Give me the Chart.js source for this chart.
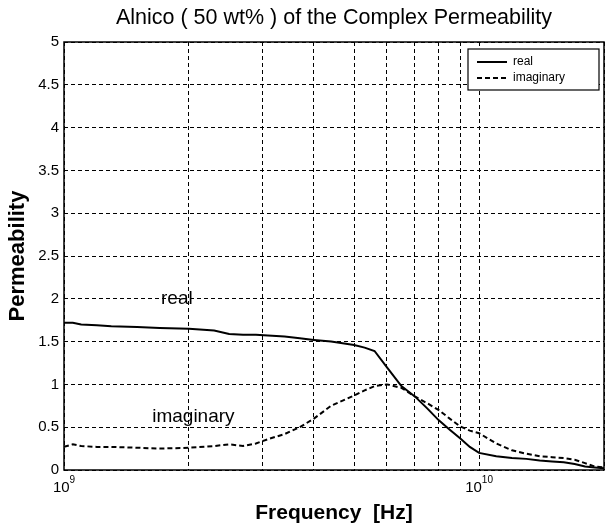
<!DOCTYPE html>
<html>
<head>
<meta charset="utf-8">
<script src="https://cdn.jsdelivr.net/npm/chart.js@4.4.0/dist/chart.umd.min.js"></script>
<style>
html,body{margin:0;padding:0;background:#fff}
#wrap{width:606px;height:528px}
</style>
</head>
<body>
<div id="wrap"><canvas id="c" width="606" height="528"></canvas></div>
<script>
// data (frequency in GHz)
const freqGHz  = [1.0, 1.05, 1.1, 1.2, 1.3, 1.5, 1.7, 2.0, 2.3, 2.5, 2.7, 2.9, 3.1, 3.4, 3.7, 4.0, 4.4, 5.0, 5.3, 5.6, 6.0, 6.5, 7.0, 7.5, 8.0, 8.5, 9.0, 9.5, 10, 11, 12, 13, 14, 15, 16, 17, 18, 19, 20]
const realVals = [1.72, 1.72, 1.70, 1.69, 1.68, 1.67, 1.66, 1.65, 1.63, 1.59, 1.58, 1.58, 1.57, 1.56, 1.54, 1.52, 1.50, 1.46, 1.43, 1.39, 1.20, 0.98, 0.86, 0.72, 0.58, 0.47, 0.37, 0.27, 0.20, 0.16, 0.14, 0.13, 0.11, 0.10, 0.09, 0.07, 0.04, 0.03, 0.02]
const imagVals = [0.27, 0.30, 0.28, 0.27, 0.27, 0.26, 0.25, 0.26, 0.28, 0.30, 0.28, 0.31, 0.36, 0.42, 0.50, 0.60, 0.75, 0.87, 0.93, 0.98, 1.00, 0.96, 0.86, 0.78, 0.70, 0.60, 0.51, 0.46, 0.43, 0.31, 0.23, 0.19, 0.16, 0.15, 0.14, 0.12, 0.08, 0.04, 0.03]

const seriesNames = ['real', 'imaginary']
const xGridHz = [1e9, 2e9, 3e9, 4e9, 5e9, 6e9, 7e9, 8e9, 9e9, 1e10, 2e10]
const xLabelExps = [9, 10]
const chartTitle = 'Alnico ( 50 wt% ) of the Complex Permeability'
const xTitle = 'Frequency  [Hz]'
const yTitle = 'Permeability'
// where the curve names are written inside the plot (data coords)
const realNote = {x: 1.87e9, y: 2.0}
const imagNote = {x: 2.05e9, y: 0.62}

const FONT = '"Liberation Sans", Arial, sans-serif'

function pts(vals){
    return freqGHz.map((f,i)=>({x: f*1e9, y: vals[i]}))
}

// 제목, 축 라벨, 범례, 테두리
const extras = {
    id: 'extras',
    afterDraw(chart){
        const ctx = chart.ctx
        const a = chart.chartArea
        const xs = chart.scales.x
        const ys = chart.scales.y
        ctx.save()

        // box
        ctx.strokeStyle = '#000'
        ctx.lineWidth = 1.5
        ctx.strokeRect(a.left, a.top, a.right - a.left, a.bottom - a.top)

        ctx.fillStyle = '#000'
        // title
        ctx.font = '21.5px ' + FONT
        ctx.textAlign = 'center'
        ctx.textBaseline = 'middle'
        ctx.fillText(chartTitle, (a.left + a.right)/2, 18)

        // 10^n labels
        xLabelExps.forEach(n=>{
            const px = xs.getPixelForValue(Math.pow(10, n))
            ctx.font = '15px ' + FONT
            const w1 = ctx.measureText('10').width
            ctx.font = '10px ' + FONT
            const w2 = ctx.measureText(String(n)).width
            const x0 = px - (w1 + w2)/2
            ctx.textAlign = 'left'
            ctx.textBaseline = 'alphabetic'
            ctx.font = '15px ' + FONT
            ctx.fillText('10', x0, a.bottom + 22)
            ctx.font = '10px ' + FONT
            ctx.fillText(String(n), x0 + w1, a.bottom + 13)
        })

        // notes
        ctx.font = '19px ' + FONT
        ctx.textAlign = 'center'
        ctx.textBaseline = 'middle'
        ctx.fillText(seriesNames[0], xs.getPixelForValue(realNote.x), ys.getPixelForValue(realNote.y))
        ctx.fillText(seriesNames[1], xs.getPixelForValue(imagNote.x), ys.getPixelForValue(imagNote.y))

        // legend
        const lx = 468, ly = 49, lw = 131, lh = 41
        ctx.fillStyle = '#fff'
        ctx.fillRect(lx, ly, lw, lh)
        ctx.strokeStyle = '#000'
        ctx.lineWidth = 1.2
        ctx.strokeRect(lx, ly, lw, lh)
        ctx.fillStyle = '#000'
        ctx.font = '12px ' + FONT
        ctx.textAlign = 'left'
        chart.data.datasets.forEach((ds,i)=>{
            const yy = ly + 13 + i*16
            ctx.lineWidth = 2
            ctx.setLineDash(ds.borderDash || [])
            ctx.beginPath()
            ctx.moveTo(lx + 9, yy)
            ctx.lineTo(lx + 39, yy)
            ctx.stroke()
            ctx.setLineDash([])
            ctx.fillText(ds.label, lx + 45, yy)
        })
        ctx.restore()
    }
}

new Chart(document.getElementById('c'), {
    type: 'line',
    data: {
        datasets: [
            {label: seriesNames[0], data: pts(realVals), borderColor: '#000', borderWidth: 2, pointRadius: 0, tension: 0},
            {label: seriesNames[1], data: pts(imagVals), borderColor: '#000', borderWidth: 2, borderDash: [5,3], pointRadius: 0, tension: 0}
        ]
    },
    options: {
        responsive: false,
        animation: false,
        events: [],
        layout: {padding: {top: 42, right: 2, left: 0, bottom: 0}},
        plugins: {legend: {display: false}, tooltip: {enabled: false}},
        scales: {
            x: {
                type: 'logarithmic',
                min: 1e9, max: 2e10,
                afterBuildTicks: s => { s.ticks = xGridHz.map(v=>({value: v})) },
                ticks: {display: false},
                grid: {color: '#000', lineWidth: 1, drawTicks: false},
                border: {display: false, dash: [4,3]},
                title: {display: true, text: xTitle, color: '#000', font: {family: FONT, size: 21, weight: 'bold'}, padding: {top: 0, bottom: 2}},
                afterFit: s => { s.height = 58 }
            },
            y: {
                min: 0, max: 5,
                ticks: {stepSize: 0.5, color: '#000', font: {family: FONT, size: 15}, padding: 5, callback: v => String(Math.round(v*10)/10)},
                grid: {color: '#000', lineWidth: 1, drawTicks: false},
                border: {display: false, dash: [4,3]},
                title: {display: true, text: yTitle, color: '#000', font: {family: FONT, size: 22, weight: 'bold'}, padding: {top: 5, bottom: 0}},
                afterFit: s => { s.width = 64 }
            }
        }
    },
    plugins: [extras]
})
</script>
</body>
</html>
